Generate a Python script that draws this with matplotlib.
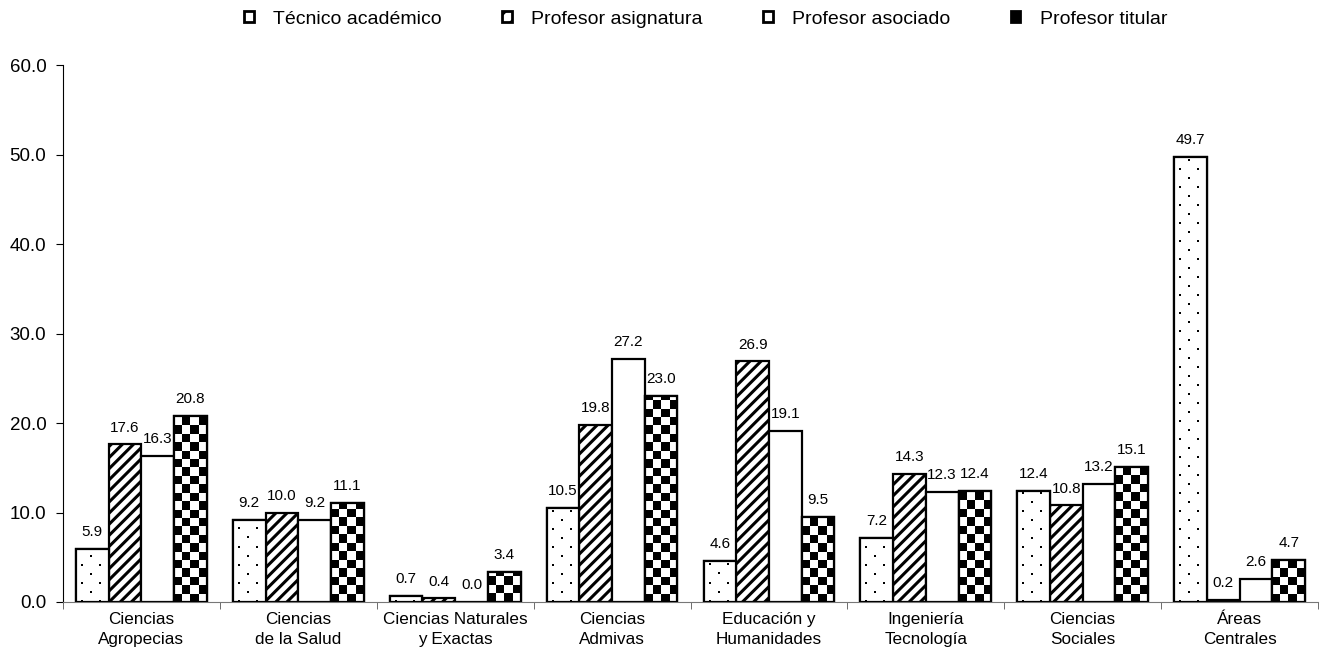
import numpy as np
import matplotlib
matplotlib.use("Agg")
import matplotlib.pyplot as plt
from matplotlib.patches import Patch

plt.rcParams['font.family'] = ['Liberation Sans', 'DejaVu Sans']
plt.rcParams['hatch.linewidth'] = 2.2

categories = ["Ciencias\nAgropecias", "Ciencias\nde la Salud", "Ciencias Naturales\ny Exactas",
              "Ciencias\nAdmivas", "Educación y\nHumanidades", "Ingeniería\nTecnología",
              "Ciencias\nSociales", "Áreas\nCentrales"]
series_names = ["Técnico académico", "Profesor asignatura", "Profesor asociado", "Profesor titular"]
tecnico = [5.9, 9.2, 0.7, 10.5, 4.6, 7.2, 12.4, 49.7]
asignatura = [17.6, 10.0, 0.4, 19.8, 26.9, 14.3, 10.8, 0.2]
asociado = [16.3, 9.2, 0.0, 27.2, 19.1, 12.3, 13.2, 2.6]
titular = [20.8, 11.1, 3.4, 23.0, 9.5, 12.4, 15.1, 4.7]
yticks = [0, 10, 20, 30, 40, 50, 60]

W, H = 1324, 653
fig = plt.figure(figsize=(W / 100, H / 100), dpi=100)
ax_rect = [63 / W, 1 - 602 / H, (1318 - 63) / W, (602 - 65) / H]
ax = fig.add_axes(ax_rect)
ax_w_px = ax_rect[2] * W
ax_h_px = ax_rect[3] * H

x = np.arange(len(categories))
w = 0.2085
offsets = [-1.5 * w, -0.5 * w, 0.5 * w, 1.5 * w]
all_series = [tecnico, asignatura, asociado, titular]
ylim = (0, 60)
xlim = (-0.5, len(categories) - 0.5)
ax.set_xlim(*xlim)
ax.set_ylim(*ylim)

bar_containers = []
for s, vals in enumerate(all_series):
    bc = ax.bar(x + offsets[s], vals, w, facecolor='white', edgecolor='black',
                linewidth=1.6, hatch='///' if s == 1 else None, zorder=2)
    bar_containers.append(bc)
    for xi, v in zip(x + offsets[s], vals):
        ax.annotate(f"{v:.1f}", (xi, v), xytext=(0, 7), textcoords='offset points',
                    ha='center', va='bottom', fontsize=11)

px_per_x = ax_w_px / (xlim[1] - xlim[0])
px_per_y = ax_h_px / (ylim[1] - ylim[0])


def texture(rect, kind):
    h = rect.get_height()
    if h <= 0:
        return
    x0 = rect.get_x()
    wd = rect.get_width()
    if kind == 'checker':
        sq = 8.4
        nrows = max(1, int(round(h * px_per_y / sq)))
        img = (np.indices((nrows, 4)).sum(axis=0) % 2).astype(float)
        ext = (x0, x0 + wd, 0, nrows * sq / px_per_y)
        cmap = 'gray'
    else:
        nr = max(1, int(np.ceil(h * px_per_y)))
        nc = max(1, int(round(wd * px_per_x)))
        r, c = np.indices((nr, nc))
        dots = (((r % 18) < 2) & (((c - 5) % 18) < 2)) | ((((r - 9) % 18) < 2) & (((c - 14) % 18) < 2))
        img = np.where(dots, 1.0, 0.0)
        ext = (x0, x0 + wd, 0, nr / px_per_y)
        cmap = 'gray_r'
    im = ax.imshow(img, cmap=cmap, vmin=0, vmax=1, interpolation='nearest',
                   extent=ext, origin='lower', aspect='auto', zorder=2.5)
    im.set_clip_path(rect)
    ax.bar(x0 + wd / 2, h, wd, facecolor='none', edgecolor='black', linewidth=1.6, zorder=3)


for rect in bar_containers[0]:
    texture(rect, 'dots')
for rect in bar_containers[3]:
    texture(rect, 'checker')
ax.set_xlim(*xlim)
ax.set_ylim(*ylim)

ax.set_yticks(yticks)
ax.set_yticklabels([f"{t:.1f}" for t in yticks], fontsize=13.5)
ax.set_xticks(x)
ax.set_xticklabels(categories, fontsize=12.3, linespacing=1.45)
ax.tick_params(axis='x', which='major', length=0, pad=7)
ax.set_xticks(np.arange(-0.5, len(categories)), minor=True)
ax.tick_params(axis='x', which='minor', length=5, direction='out', color='#555555')
ax.tick_params(axis='y', length=5, direction='out', pad=7)
for sp in ['top', 'right']:
    ax.spines[sp].set_visible(False)
ax.spines['bottom'].set_color('#777777')
ax.spines['left'].set_linewidth(0.8)

handles = [Patch(facecolor='white', edgecolor='black', linewidth=2.0),
           Patch(facecolor='white', edgecolor='black', hatch='//', linewidth=2.0),
           Patch(facecolor='white', edgecolor='black', linewidth=2.0),
           Patch(facecolor='black', edgecolor='black', linewidth=2.0)]
fig.legend(handles, series_names, loc='center', bbox_to_anchor=(0.533, 1 - 19 / H), ncol=4,
           frameon=False, fontsize=14, handlelength=0.5, handleheight=0.5,
           columnspacing=3.1, handletextpad=1.0, borderpad=0)

fig.savefig("out.png", dpi=100)
